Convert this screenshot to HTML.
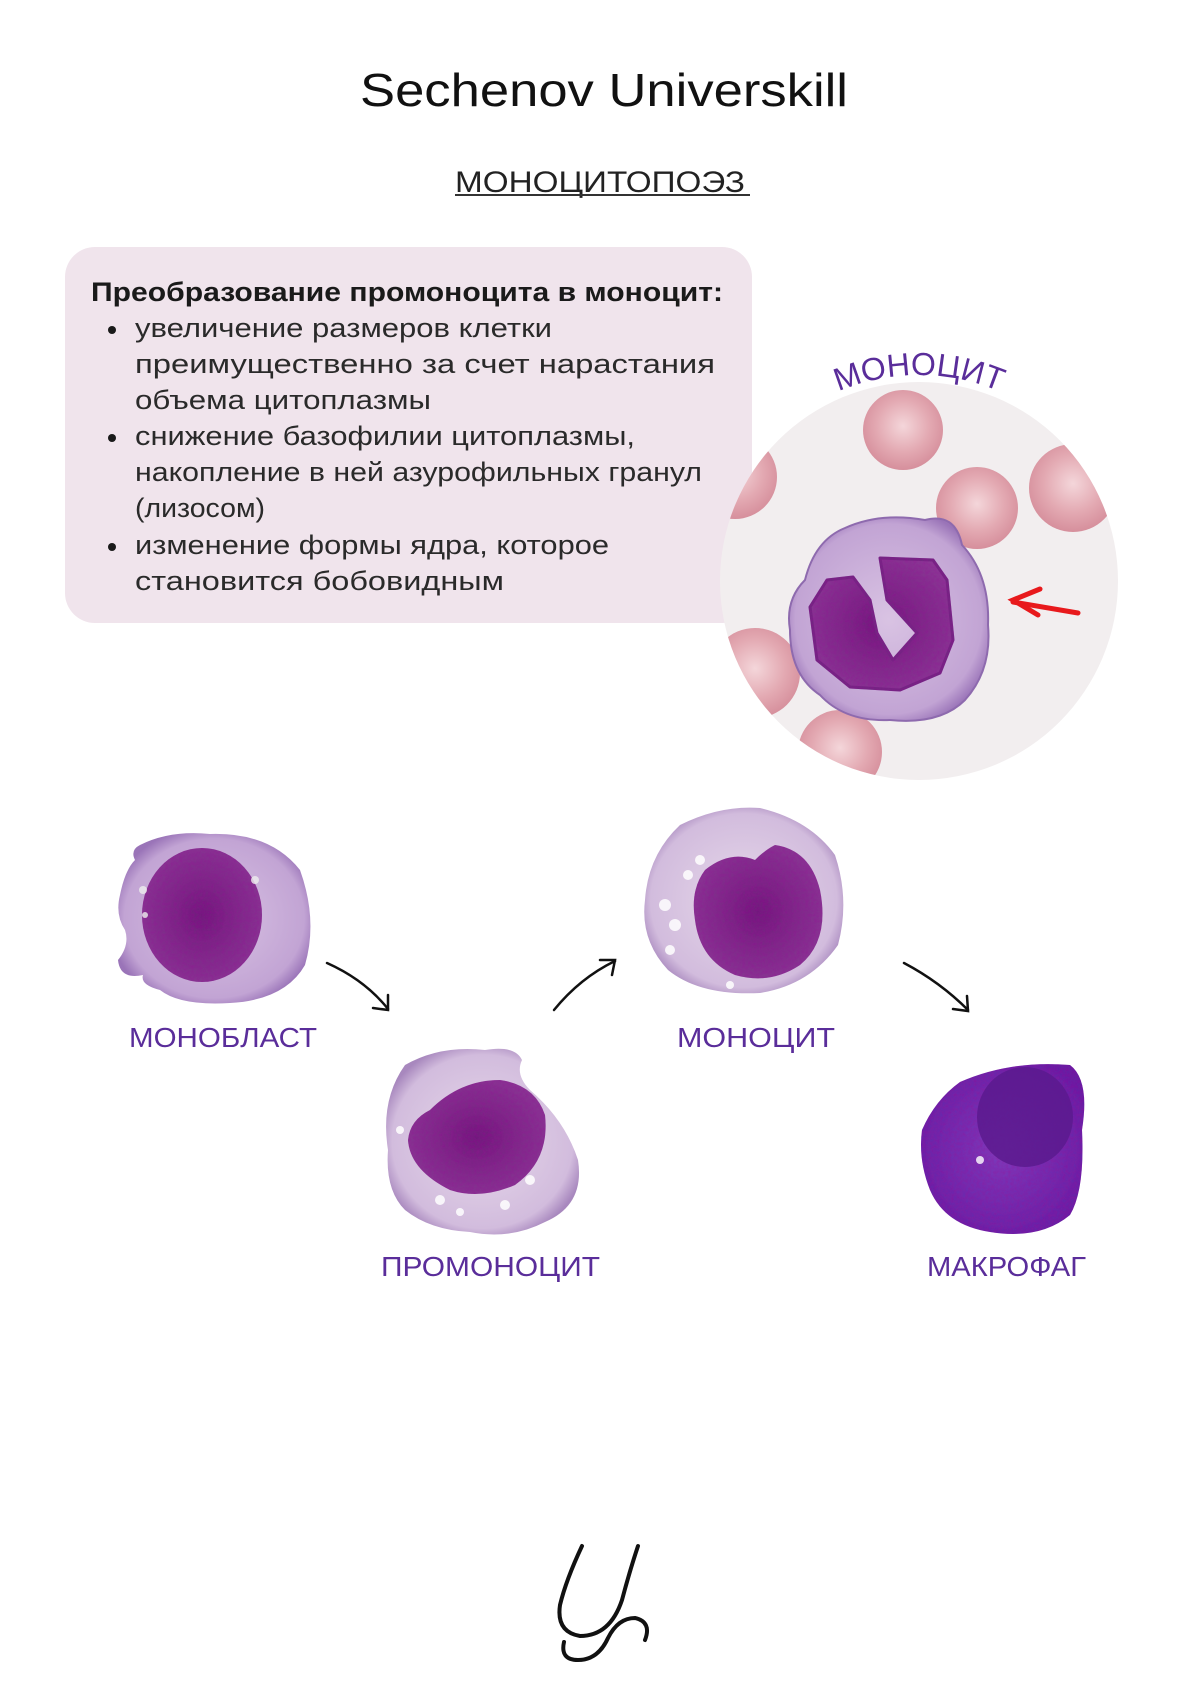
<!DOCTYPE html>
<html><head><meta charset="utf-8"><style>
html,body{margin:0;padding:0;background:#fff}
svg{display:block}
text{font-family:"Liberation Sans",sans-serif}
</style></head><body>
<svg width="1200" height="1697" viewBox="0 0 1200 1697" xmlns="http://www.w3.org/2000/svg">
<defs>
<clipPath id="cc"><circle cx="919" cy="581" r="199"/></clipPath>
<radialGradient id="rbc" cx="50%" cy="45%" r="55%"><stop offset="0" stop-color="#f4d6da"/><stop offset="0.6" stop-color="#e3a9b2"/><stop offset="1" stop-color="#d68f9c"/></radialGradient>
<radialGradient id="cyto" cx="50%" cy="50%" r="55%"><stop offset="0" stop-color="#d9c3e3"/><stop offset="0.85" stop-color="#c2a4d4"/><stop offset="1" stop-color="#9a74b8"/></radialGradient>
<radialGradient id="nuc" cx="50%" cy="50%" r="60%"><stop offset="0" stop-color="#6a1f78"/><stop offset="1" stop-color="#8a3d96"/></radialGradient>
<radialGradient id="cyto2" cx="50%" cy="50%" r="55%"><stop offset="0" stop-color="#e6d8ea"/><stop offset="0.85" stop-color="#d2bcdd"/><stop offset="1" stop-color="#a888be"/></radialGradient>
<radialGradient id="mac" cx="50%" cy="50%" r="60%"><stop offset="0" stop-color="#7b3fc0"/><stop offset="1" stop-color="#5b22a6"/></radialGradient>
<filter id="grain"><feTurbulence type="fractalNoise" baseFrequency="0.35" numOctaves="2" result="n"/><feColorMatrix in="n" type="matrix" values="0 0 0 0 0.3  0 0 0 0 0  0 0 0 0 0.3  0 0 0 0.5 0" result="c"/><feComposite in="c" in2="SourceGraphic" operator="in" result="g"/><feMerge><feMergeNode in="SourceGraphic"/><feMergeNode in="g"/></feMerge></filter>
<path id="arc" d="M 713 581 A 206 206 0 0 1 1125 581" fill="none"/>
</defs>

<text x="604" y="106" font-size="46" text-anchor="middle" fill="#111" textLength="488" lengthAdjust="spacingAndGlyphs">Sechenov Universkill</text>
<text x="455" y="192" font-size="30" fill="#222" textLength="290" lengthAdjust="spacingAndGlyphs">МОНОЦИТОПОЭЗ</text>
<line x1="455" y1="195" x2="750" y2="195" stroke="#333" stroke-width="2"/>

<rect x="65" y="247" width="687" height="376" rx="30" fill="#f0e4ec"/>
<g fill="#1a1a1a" font-size="27">
<text x="91" y="301" font-weight="bold" textLength="632" lengthAdjust="spacingAndGlyphs">Преобразование промоноцита в моноцит:</text>
<circle cx="112" cy="330" r="4"/><circle cx="112" cy="438" r="4"/><circle cx="112" cy="547" r="4"/>
<g fill="#2a2a2a">
<text x="135" y="337" textLength="417" lengthAdjust="spacingAndGlyphs">увеличение размеров клетки</text>
<text x="135" y="373" textLength="580" lengthAdjust="spacingAndGlyphs">преимущественно за счет нарастания</text>
<text x="135" y="409" textLength="296" lengthAdjust="spacingAndGlyphs">объема цитоплазмы</text>
<text x="135" y="445" textLength="500" lengthAdjust="spacingAndGlyphs">снижение базофилии цитоплазмы,</text>
<text x="135" y="481" textLength="567" lengthAdjust="spacingAndGlyphs">накопление в ней азурофильных гранул</text>
<text x="135" y="517" textLength="130" lengthAdjust="spacingAndGlyphs">(лизосом)</text>
<text x="135" y="554" textLength="474" lengthAdjust="spacingAndGlyphs">изменение формы ядра, которое</text>
<text x="135" y="590" textLength="369" lengthAdjust="spacingAndGlyphs">становится бобовидным</text>
</g>
</g>

<!-- circle micrograph -->
<circle cx="919" cy="581" r="199" fill="#f2eeef"/>
<g clip-path="url(#cc)">
<circle cx="903" cy="430" r="40" fill="url(#rbc)"/>
<circle cx="977" cy="508" r="41" fill="url(#rbc)"/>
<circle cx="1073" cy="488" r="44" fill="url(#rbc)"/>
<circle cx="735" cy="477" r="42" fill="url(#rbc)"/>
<circle cx="755" cy="673" r="45" fill="url(#rbc)"/>
<circle cx="840" cy="752" r="42" fill="url(#rbc)"/>
<path d="M845,528 Q880,512 925,520 Q955,512 962,545 Q990,575 988,625 Q992,670 965,700 Q940,725 890,720 Q845,722 820,695 Q790,675 790,630 Q785,600 805,580 Q815,540 845,528 Z" fill="url(#cyto)" stroke="#8e6aae" stroke-width="2"/>
<path d="M880,558 L933,560 L947,580 L953,640 L940,673 L900,690 L850,687 L817,660 L810,607 L827,580 L853,577 L870,600 L877,633 L893,660 L917,633 L887,600 Z" fill="url(#nuc)" stroke="#6d2a80" stroke-width="3" stroke-linejoin="round" filter="url(#grain)"/>
</g>
<text font-size="32" fill="#5a2d9a"><textPath href="#arc" startOffset="50%" text-anchor="middle">МОНОЦИТ</textPath></text>
<g stroke="#e8191c" stroke-width="5" fill="none" stroke-linecap="round"><path d="M1013,602 L1078,613"/><path d="M1040,589 L1013,600 L1038,615"/></g>

<!-- monoblast -->
<path d="M140,845 Q170,830 210,834 Q270,832 300,870 Q318,920 305,965 Q285,1000 230,1003 Q180,1006 160,990 Q140,985 143,975 Q120,980 118,960 Q130,945 125,930 Q115,915 120,895 Q125,870 135,860 Q130,850 140,845 Z" fill="url(#cyto)"/>
<ellipse cx="202" cy="915" rx="60" ry="67" fill="url(#nuc)" filter="url(#grain)"/>
<g fill="#eee" opacity="0.8"><circle cx="143" cy="890" r="4"/><circle cx="255" cy="880" r="4"/><circle cx="145" cy="915" r="3"/></g>
<text x="129" y="1047" font-size="28" fill="#5a2d9a" textLength="188" lengthAdjust="spacingAndGlyphs">МОНОБЛАСТ</text>

<!-- promonocyte -->
<path d="M405,1065 Q440,1045 485,1050 Q515,1045 522,1060 Q515,1075 530,1090 Q565,1120 578,1160 Q585,1205 545,1222 Q510,1240 470,1232 Q430,1230 405,1210 Q385,1190 388,1150 Q380,1100 405,1065 Z" fill="url(#cyto2)"/>
<path d="M430,1110 Q460,1080 500,1080 Q535,1085 545,1115 Q550,1160 515,1185 Q480,1200 450,1190 Q410,1170 408,1140 Q410,1120 430,1110 Z" fill="url(#nuc)" filter="url(#grain)"/>
<g fill="#fff" opacity="0.85"><circle cx="440" cy="1200" r="5"/><circle cx="530" cy="1180" r="5"/><circle cx="400" cy="1130" r="4"/><circle cx="460" cy="1212" r="4"/><circle cx="505" cy="1205" r="5"/></g>
<text x="381" y="1276" font-size="28" fill="#5a2d9a" textLength="219" lengthAdjust="spacingAndGlyphs">ПРОМОНОЦИТ</text>

<!-- monocyte -->
<path d="M680,825 Q720,805 760,808 Q810,820 835,855 Q850,900 838,945 Q810,985 760,993 Q700,996 668,970 Q640,940 645,900 Q648,855 680,825 Z" fill="url(#cyto2)"/>
<path d="M705,870 Q730,850 755,860 Q765,850 775,845 Q810,850 820,890 Q830,940 800,965 Q770,985 735,975 Q700,960 695,920 Q690,890 705,870 Z" fill="url(#nuc)" filter="url(#grain)"/>
<g fill="#fff" opacity="0.85"><circle cx="665" cy="905" r="6"/><circle cx="675" cy="925" r="6"/><circle cx="700" cy="860" r="5"/><circle cx="688" cy="875" r="5"/><circle cx="670" cy="950" r="5"/><circle cx="730" cy="985" r="4"/></g>
<text x="677" y="1047" font-size="28" fill="#5a2d9a" textLength="158" lengthAdjust="spacingAndGlyphs">МОНОЦИТ</text>

<!-- macrophage -->
<path d="M960,1082 Q1010,1060 1070,1065 Q1090,1080 1082,1130 Q1085,1190 1070,1215 Q1040,1240 990,1232 Q945,1225 930,1190 Q918,1160 922,1130 Q935,1100 960,1082 Z" fill="url(#mac)" filter="url(#grain)"/>
<ellipse cx="1025" cy="1117" rx="48" ry="50" fill="#5a1a8e" opacity="0.85"/>
<circle cx="980" cy="1160" r="4" fill="#fff" opacity="0.8"/>
<text x="927" y="1276" font-size="28" fill="#5a2d9a" textLength="159" lengthAdjust="spacingAndGlyphs">МАКРОФАГ</text>

<!-- arrows -->
<g stroke="#111" stroke-width="2.5" fill="none" stroke-linecap="round">
<path d="M327,963 Q365,980 388,1009"/><path d="M373,1008 L388,1010 L388,995"/>
<path d="M554,1010 Q580,978 615,961"/><path d="M600,960 L615,960 L612,975"/>
<path d="M904,963 Q940,982 968,1010"/><path d="M953,1009 L968,1011 L967,996"/>
</g>

<!-- logo -->
<g stroke="#111" stroke-width="4" fill="none" stroke-linecap="round">
<path d="M582,1546 Q566,1580 560,1605 Q556,1632 580,1636 Q610,1636 622,1600 Q630,1570 638,1546"/>
<path d="M645,1640 Q652,1622 635,1618 Q618,1618 608,1638 Q598,1660 578,1660 Q560,1660 564,1642"/>
</g>
</svg>
</body></html>
